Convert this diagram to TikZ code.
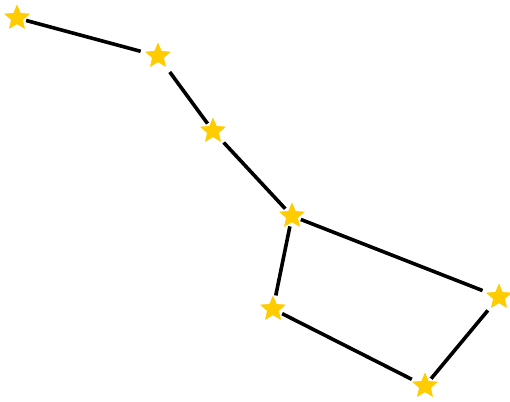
\documentclass[tikz,border=0pt]{standalone}
\usetikzlibrary{shapes.geometric}
\definecolor{stargold}{HTML}{FFCC00}
\tikzset{
  starnode/.style={star, star points=5, star point ratio=2.2, fill=stargold, draw=white, line width=2.4pt, minimum size=34pt, inner sep=0pt},
  link/.style={line width=3.6pt, line cap=butt}
}
\begin{document}
\begin{tikzpicture}[x=1pt, y=-1pt]
  \useasboundingbox (0,0) rectangle (510,401);
  % stars of the dipper
  \node[starnode] (alkaid) at (17,18) {};
  \node[starnode] (mizar) at (158,56) {};
  \node[starnode] (alioth) at (213,131) {};
  \node[starnode] (megrez) at (292,216) {};
  \node[starnode] (phecda) at (273,309) {};
  \node[starnode] (merak) at (425,386) {};
  \node[starnode] (dubhe) at (499,297) {};
  % handle and bowl
  \draw[link] (alkaid) -- (mizar);
  \draw[link] (mizar) -- (alioth);
  \draw[link] (alioth) -- (megrez);
  \draw[link] (megrez) -- (phecda);
  \draw[link] (phecda) -- (merak);
  \draw[link] (merak) -- (dubhe);
  \draw[link] (dubhe) -- (megrez);
\end{tikzpicture}
\end{document}
